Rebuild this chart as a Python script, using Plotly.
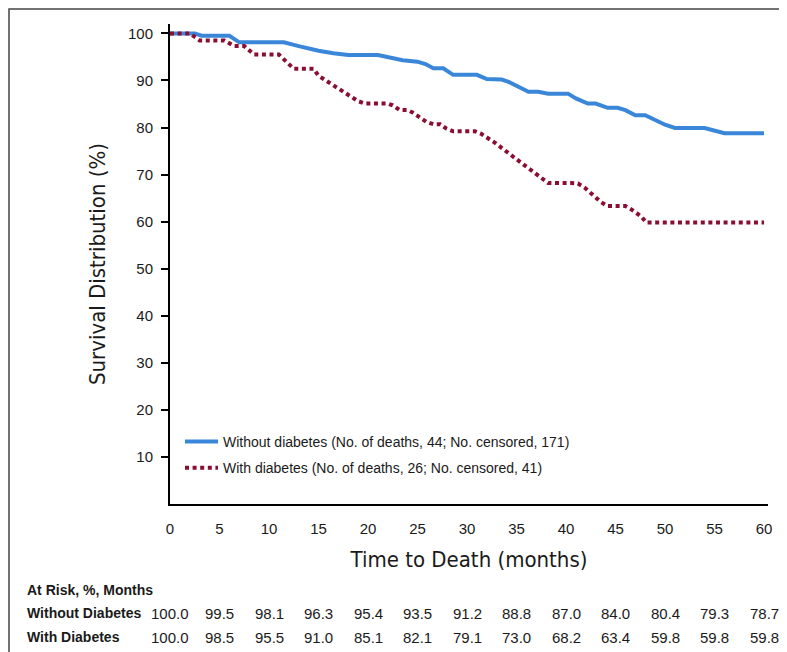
import plotly.graph_objects as go

# ---------------- data ----------------
months_without = [0, 2.5, 3.2, 6.0, 7.0, 11.5, 13.0, 15.0, 16.5, 18.0, 21.0, 22.0, 23.5, 25.0,
                  25.8, 26.6, 27.6, 28.6, 31.0, 32.0, 33.5, 34.2, 35.0, 35.6, 36.2, 37.2, 38.2,
                  40.2, 41.0, 42.2, 43.0, 44.2, 45.2, 46.0, 47.0, 48.0, 50.0, 51.0, 54.0, 56.0, 60.0]
surv_without = [100.0, 100.0, 99.5, 99.5, 98.1, 98.1, 97.3, 96.3, 95.8, 95.4, 95.4, 95.0, 94.3, 94.0,
                93.5, 92.6, 92.6, 91.2, 91.2, 90.3, 90.2, 89.7, 88.8, 88.3, 87.6, 87.6, 87.2,
                87.2, 86.2, 85.1, 85.1, 84.2, 84.2, 83.7, 82.6, 82.6, 80.6, 79.9, 79.9, 78.8, 78.8]

months_with = [0, 2.0, 3.0, 5.5, 6.5, 7.5, 8.5, 11.0, 12.5, 14.5, 15.0, 17.0, 17.8, 19.0, 19.7,
               22.0, 22.5, 23.2, 24.0, 24.5, 25.9, 26.6, 27.3, 27.9, 28.6, 30.8, 31.4, 32.8,
               34.6, 36.3, 37.5, 38.2, 40.5, 41.2, 41.9, 43.5, 44.2, 46.0, 46.6, 47.6, 48.1, 60.0]
surv_with = [100.0, 100.0, 98.5, 98.5, 97.3, 97.3, 95.5, 95.5, 92.5, 92.5, 91.0, 88.3, 87.4, 85.6, 85.1,
             85.1, 84.7, 83.7, 83.7, 83.2, 81.2, 80.7, 80.7, 79.8, 79.2, 79.2, 78.7, 76.8,
             73.9, 71.1, 69.1, 68.2, 68.2, 68.1, 67.2, 64.2, 63.3, 63.3, 62.6, 61.1, 59.8, 59.8]

series_names = ["Without diabetes (No. of deaths, 44; No. censored, 171)",
                "With diabetes (No. of deaths, 26; No. censored, 41)"]

risk_months = [0, 5, 10, 15, 20, 25, 30, 35, 40, 45, 50, 55, 60]
risk_without = ["100.0", "99.5", "98.1", "96.3", "95.4", "93.5", "91.2", "88.8", "87.0", "84.0", "80.4", "79.3", "78.7"]
risk_with = ["100.0", "98.5", "95.5", "91.0", "85.1", "82.1", "79.1", "73.0", "68.2", "63.4", "59.8", "59.8", "59.8"]
risk_header = "At Risk, %, Months"
risk_row_labels = ["Without Diabetes", "With Diabetes"]

x_label_ticks = [0, 5, 10, 15, 20, 25, 30, 35, 40, 45, 50, 55, 60]
x_minor_ticks = list(range(0, 61, 2))
y_ticks = [10, 20, 30, 40, 50, 60, 70, 80, 90, 100]

# ---------------- layout geometry ----------------
W, H = 787, 652
ML, MR, MT, MB = 162, 27, 16, 156
PW, PH = W - ML - MR, H - MT - MB
XR = [0, 60.4]
YR = [0, 102]


def px_x(p):
    return (p - ML) / PW


def px_y(p):
    return (H - MB - p) / PH


BLUE = "#3A87DA"
RED = "#8B0D32"
NARROW = "Liberation Sans Narrow, DejaVu Sans Condensed, Arial Narrow, sans-serif"
SANS = "Liberation Sans, Arial, Helvetica, sans-serif"

fig = go.Figure()
fig.add_trace(go.Scatter(x=months_without, y=surv_without, mode="lines",
                         line=dict(color=BLUE, width=4), name=series_names[0],
                         legendgroup="a"))
fig.add_trace(go.Scatter(x=months_with, y=surv_with, mode="lines",
                         line=dict(color=RED, width=4, dash="4px,3.6px"), name=series_names[1],
                         legendgroup="b"))

annotations = []
annotations.append(dict(x=px_x(17), y=px_y(582), xref="paper", yref="paper", text="<b>" + risk_header + "</b>",
                        showarrow=False, xanchor="left", yanchor="middle",
                        font=dict(family=SANS, size=14, color="#1a1a1a")))
for label, vals, ypix in [(risk_row_labels[0], risk_without, 605), (risk_row_labels[1], risk_with, 629)]:
    annotations.append(dict(x=px_x(17), y=px_y(ypix), xref="paper", yref="paper", text="<b>" + label + "</b>",
                            showarrow=False, xanchor="left", yanchor="middle",
                            font=dict(family=SANS, size=14, color="#1a1a1a")))
    for m, v in zip(risk_months, vals):
        annotations.append(dict(x=m, y=px_y(ypix), xref="x", yref="paper", text=v,
                                showarrow=False, xanchor="center", yanchor="middle",
                                font=dict(family=SANS, size=15, color="#1a1a1a")))

fig.update_layout(
    width=W, height=H,
    margin=dict(l=ML, r=MR, t=MT, b=MB, autoexpand=False),
    paper_bgcolor="white", plot_bgcolor="white",
    showlegend=True,
    legend=dict(x=px_x(172), y=px_y(418), xanchor="left", yanchor="top",
                bgcolor="rgba(0,0,0,0)", tracegroupgap=5,
                font=dict(family=SANS, size=14, color="#1a1a1a"), itemwidth=33),
    xaxis=dict(range=XR, tickmode="array", tickvals=x_label_ticks,
               ticks="outside", ticklen=10, tickcolor="rgba(0,0,0,0)",
               showline=True, linecolor="black", linewidth=2, showgrid=False, zeroline=False,
               tickfont=dict(family=SANS, size=15, color="#1a1a1a"),
               title=dict(text="Time to Death (months)", font=dict(family=NARROW, size=22, color="#1a1a1a"),
                          standoff=16)),
    xaxis2=dict(range=XR, overlaying="x", anchor="y", side="bottom", tickmode="array",
                tickvals=x_minor_ticks, ticks="outside", ticklen=7, tickwidth=2, tickcolor="black",
                showticklabels=False, showline=False, showgrid=False, zeroline=False),
    yaxis=dict(range=YR, tickmode="array", tickvals=y_ticks, ticks="outside", ticklen=7,
               tickwidth=2, tickcolor="black", showline=True, linecolor="black", linewidth=2,
               showgrid=False, zeroline=False, ticklabelstandoff=5,
               tickfont=dict(family=SANS, size=15, color="#1a1a1a"),
               title=dict(text="Survival Distribution (%)", font=dict(family=NARROW, size=22, color="#1a1a1a"),
                          standoff=16)),
    annotations=annotations,
    shapes=[dict(type="rect", xref="paper", yref="paper",
                 x0=px_x(1), x1=px_x(W - 1), y0=px_y(H - 1), y1=px_y(1),
                 line=dict(color="#444", width=1.5), fillcolor="rgba(0,0,0,0)", layer="below")],
)

fig.write_html("out.html")
